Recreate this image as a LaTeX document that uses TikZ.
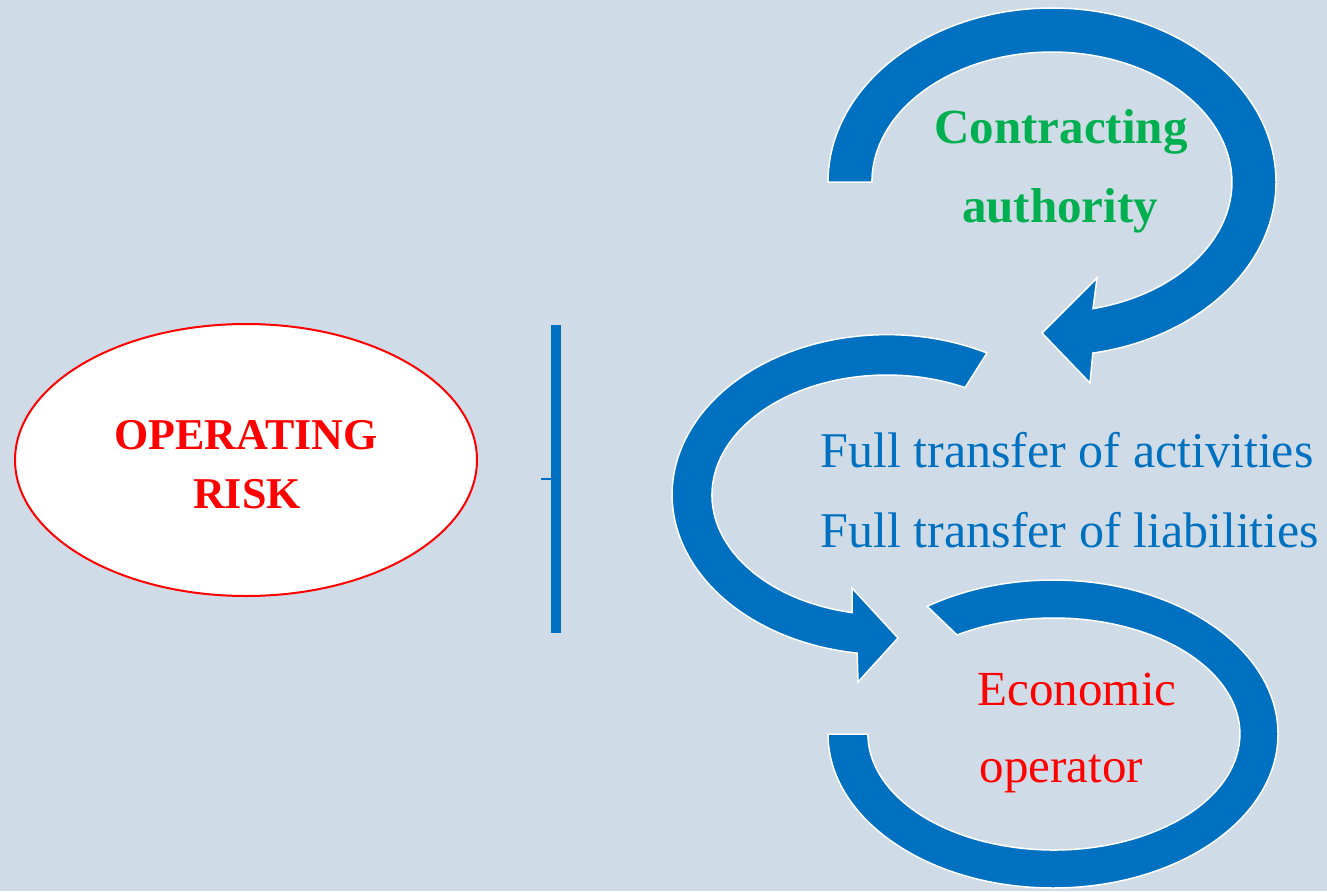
\documentclass[tikz,border=0pt]{standalone}
\usepackage{fontspec}
\setmainfont{Liberation Serif}
\definecolor{bgc}{HTML}{CFDBE6}
\definecolor{arrblue}{HTML}{0070C0}
\definecolor{txtgreen}{HTML}{00B050}
\definecolor{txtred}{HTML}{FF0000}
\tikzset{
  band/.style={fill=arrblue, draw=white, line width=1.5pt, line join=miter},
  lbl/.style={anchor=base, inner sep=0pt},
}
\begin{document}
\begin{tikzpicture}[x=1pt,y=1pt]
\fill[bgc] (0,0) rectangle (1327,-891);
\useasboundingbox (0,0) rectangle (1327,-891);

% left ellipse
\draw[txtred, fill=white, line width=2pt] (246,-460) ellipse [x radius=231, y radius=136];
\node[lbl, text=txtred, font=\fontsize{44}{50}\selectfont\bfseries] (op) at (246,-449) {OPERATING};
\node[lbl, text=txtred, font=\fontsize{44}{50}\selectfont\bfseries] (risk) at (247,-508) {RISK};

% vertical bar with tick
\fill[arrblue] (551,-325) rectangle (561,-633);
\draw[arrblue, line width=2pt] (541,-479) -- (551,-479);

% top arrow (Contracting authority)
\draw[band] (828,-182)
  arc[start angle=180, end angle=-79.5, x radius=224, y radius=174]
  -- (1090,-383) -- (1042,-333) -- (1097,-278) -- (1093,-308.6)
  arc[start angle=-76.8, end angle=180, x radius=180, y radius=130]
  -- cycle;

% middle arrow (Full transfer)
\draw[band] (987,-353)
  arc[start angle=62.3, end angle=262, x radius=215, y radius=160]
  -- (858,-682) -- (898,-638) -- (852,-588) -- (852.1,-612.6)
  arc[start angle=258.5, end angle=63.5, x radius=175, y radius=120]
  -- cycle;

% bottom arrow (Economic operator)
\draw[band] (828,-734)
  arc[start angle=180, end angle=484, x radius=225, y radius=154]
  -- (957,-635)
  arc[start angle=481.4, end angle=180, x radius=186, y radius=116]
  -- cycle;

% texts
\node[lbl, text=txtgreen, font=\fontsize{49}{55}\selectfont\bfseries] (ca1) at (1061,-143) {Contracting};
\node[lbl, text=txtgreen, font=\fontsize{49}{55}\selectfont\bfseries] (ca2) at (1060,-222) {authority};
\node[lbl, text=arrblue, font=\fontsize{50}{56}\selectfont] (ft1) at (1067,-467) {Full transfer of activities};
\node[lbl, text=arrblue, font=\fontsize{50}{56}\selectfont] (ft2) at (1070,-547) {Full transfer of liabilities};
\node[lbl, text=txtred, font=\fontsize{49}{55}\selectfont] (eo1) at (1077,-705) {Economic};
\node[lbl, text=txtred, font=\fontsize{49}{55}\selectfont] (eo2) at (1061.5,-782) {operator};
\end{tikzpicture}
\end{document}
